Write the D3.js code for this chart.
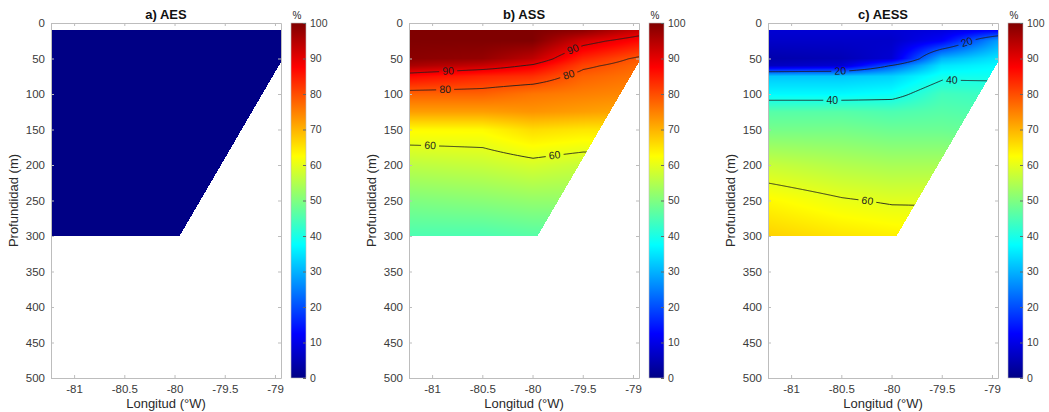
<!DOCTYPE html>
<html><head><meta charset="utf-8">
<script src="https://cdn.jsdelivr.net/npm/d3@7"></script>
<style>
body{margin:0;background:#fff;}
svg{display:block;font-family:"Liberation Sans",Arial,Helvetica,sans-serif;}
</style>
</head><body>
<svg id="chart" width="1049" height="412"></svg>
<script>
// ---------------- DATA ----------------
const titles = ["a) AES", "b) ASS", "c) AESS"];
const lonGrid = [-81.23, -80.5, -80.0, -79.5, -78.94];              // station longitudes (°W)
const depthGrid = [10, 25, 50, 60, 75, 100, 125, 150, 200, 250, 300]; // depths (m)

// rows = depthGrid, columns = lonGrid  (%)
const aesValues = [
  [0,0,0,0,0],[0,0,0,0,0],[0,0,0,0,0],[0,0,0,0,0],[0,0,0,0,0],[0,0,0,0,0],
  [0,0,0,0,0],[0,0,0,0,0],[0,0,0,0,0],[0,0,0,0,0],[0,0,0,0,0]
];
const assValues = [
  [100, 100, 100,  99, 93],
  [100, 100, 100,  92, 87],
  [ 99,  98,  94,  84, 79],
  [ 96,  93,  89,  81, 77.5],
  [ 87,  84,  83,  78, 76],
  [ 78,  78,  76,  75, 74],
  [ 72,  72,  73,  72, 71],
  [ 63,  63,  66,  65, 65],
  [ 56,  57, 58.5, 57, 57],
  [ 50,  51,  52,  52, 51],
  [ 45,  45,  46,  46, 46]
];
const aessValues = [
  [  8,   8,   8,   9, 12],
  [  7,   7,   7,  12, 28],
  [  4,   5,   8,  30, 35],
  [  6,   8,  21,  35, 37],
  [ 32,  32,  33,  39, 39],
  [ 37,  37,  38,  44, 43],
  [ 46,  46,  45,  46, 45],
  [ 49,  49,  48,  48, 47],
  [ 57,  55,  54,  54, 52],
  [ 63, 60.5, 59.5, 59.5, 57],
  [ 67,  65,  64,  63, 61]
];
const panelValues = [aesValues, assValues, aessValues];

// data coverage (section above the shelf)
const maskLon   = [-81.23, -78.94, -78.94, -79.95, -81.23];
const maskDepth = [10, 10, 55, 300, 300];

const contourLevels = [[], [60, 80, 90], [20, 40, 60]];
// contour labels: [level, longitude]
const contourLabels = [
  [],
  [[90, -80.84], [90, -79.6], [80, -80.87], [80, -79.64], [60, -81.02], [60, -79.78]],
  [[20, -80.51], [20, -79.25], [40, -80.59], [40, -79.40], [60, -80.24]]
];

const xTicks = [-81, -80.5, -80, -79.5, -79];
const yTicks = [0, 50, 100, 150, 200, 250, 300, 350, 400, 450, 500];
const cbTicks = [0, 10, 20, 30, 40, 50, 60, 70, 80, 90, 100];
const xLabel = "Longitud (°W)";
const yLabel = "Profundidad (m)";
const cbUnit = "%";

// ---------------- LAYOUT ----------------
const panelLefts = [51, 409, 768];
const plotW = 230, plotTop = 23, plotBottom = 378;
const cbOffset = 240, cbW = 15;
const axisColor = "#bdbdbd", tickText = "#3a3a3a";

const jet = d3.scaleLinear()
  .domain([0, 12.5, 37.5, 62.5, 87.5, 100])
  .range(["#000085", "#0000ff", "#00ffff", "#ffff00", "#ff0000", "#800000"])
  .clamp(true);

function field(vals, lon, depth) {
  const nL = lonGrid.length, nD = depthGrid.length;
  lon = Math.max(lonGrid[0], Math.min(lonGrid[nL - 1], lon));
  depth = Math.max(depthGrid[0], Math.min(depthGrid[nD - 1], depth));
  let i = Math.min(d3.bisectRight(lonGrid, lon) - 1, nL - 2);
  let j = Math.min(d3.bisectRight(depthGrid, depth) - 1, nD - 2);
  i = Math.max(0, i); j = Math.max(0, j);
  const tx = (lon - lonGrid[i]) / (lonGrid[i + 1] - lonGrid[i]);
  const ty = (depth - depthGrid[j]) / (depthGrid[j + 1] - depthGrid[j]);
  return (1 - tx) * (1 - ty) * vals[j][i] + tx * (1 - ty) * vals[j][i + 1] +
         (1 - tx) * ty * vals[j + 1][i] + tx * ty * vals[j + 1][i + 1];
}

const svg = d3.select("#chart");
const defs = svg.append("defs");

// colorbar gradient
const grad = defs.append("linearGradient").attr("id", "jetgrad")
  .attr("x1", 0).attr("y1", 1).attr("x2", 0).attr("y2", 0);
d3.range(0, 101, 2.5).forEach(v => grad.append("stop").attr("offset", v / 100).attr("stop-color", jet(v)));

panelValues.forEach((vals, p) => {
  const left = panelLefts[p];
  const x = d3.scaleLinear().domain([-81.23, -78.94]).range([left, left + plotW]);
  const y = d3.scaleLinear().domain([0, 500]).range([plotTop, plotBottom]);
  const g = svg.append("g");

  const maskPoly = maskLon.map((l, k) => [x(l), y(maskDepth[k])]);

  // ---- field image ----
  const cw = plotW, ch = plotBottom - plotTop;
  const canvas = document.createElement("canvas");
  canvas.width = cw; canvas.height = ch;
  const ctx = canvas.getContext("2d");
  const img = ctx.createImageData(cw, ch);
  for (let py = 0; py < ch; py++) {
    for (let px = 0; px < cw; px++) {
      const sx = left + px + 0.5, sy = plotTop + py + 0.5;
      if (!d3.polygonContains(maskPoly, [sx, sy])) continue;
      const v = field(vals, x.invert(sx), y.invert(sy));
      const c = d3.rgb(jet(v));
      const k = (py * cw + px) * 4;
      img.data[k] = c.r; img.data[k + 1] = c.g; img.data[k + 2] = c.b; img.data[k + 3] = 255;
    }
  }
  ctx.putImageData(img, 0, 0);
  g.append("image").attr("x", left).attr("y", plotTop).attr("width", cw).attr("height", ch)
    .attr("preserveAspectRatio", "none").attr("href", canvas.toDataURL());

  // ---- contours ----
  const levels = contourLevels[p];
  if (levels.length) {
    const lon0 = -81.4, dLon = 0.01, N = 261;
    const dep0 = 0, dDep = 1, M = 321;
    const grid = new Array(N * M);
    for (let j = 0; j < M; j++) for (let i = 0; i < N; i++)
      grid[j * N + i] = field(vals, lon0 + i * dLon, dep0 + j * dDep);
    const contours = d3.contours().size([N, M]).thresholds(levels)(grid);
    const path = d3.geoPath(d3.geoTransform({
      point: function (cx, cy) { this.stream.point(x(lon0 + cx * dLon), y(dep0 + cy * dDep)); }
    }));

    // label positions
    const crossDepth = (level, lon) => {
      for (let d = 10; d < 300; d += 0.25) {
        const a = field(vals, lon, d) - level, b = field(vals, lon, d + 0.25) - level;
        if (a === 0 || a * b < 0) return d + 0.25 * (a / (a - b));
      }
      return null;
    };
    const labels = contourLabels[p].map(([lev, lon]) => {
      const d = crossDepth(lev, lon);
      const d1 = crossDepth(lev, lon - 0.05), d2 = crossDepth(lev, lon + 0.05);
      let ang = 0;
      if (d1 != null && d2 != null) ang = Math.atan2(y(d2) - y(d1), x(lon + 0.05) - x(lon - 0.05)) * 180 / Math.PI;
      return {lev, px: x(lon), py: y(d), ang};
    });

    const clipId = "clip" + p, maskId = "lblmask" + p;
    defs.append("clipPath").attr("id", clipId).append("polygon")
      .attr("points", maskPoly.map(q => q.join(",")).join(" "));
    const m = defs.append("mask").attr("id", maskId).attr("maskUnits", "userSpaceOnUse")
      .attr("x", 0).attr("y", 0).attr("width", 1049).attr("height", 412);
    m.append("rect").attr("x", 0).attr("y", 0).attr("width", 1049).attr("height", 412).attr("fill", "#fff");
    labels.forEach(l => m.append("rect").attr("x", -9).attr("y", -6).attr("width", 18).attr("height", 12)
      .attr("fill", "#000").attr("transform", `translate(${l.px},${l.py}) rotate(${l.ang})`));

    g.append("g").attr("clip-path", `url(#${clipId})`)
      .append("g").attr("mask", `url(#${maskId})`)
      .selectAll("path").data(contours).join("path")
      .attr("d", path).attr("fill", "none").attr("stroke", "#1e1e1e").attr("stroke-width", 0.9);

    g.selectAll("text.clab").data(labels).join("text").attr("class", "clab")
      .attr("transform", l => `translate(${l.px},${l.py}) rotate(${l.ang})`)
      .attr("text-anchor", "middle").attr("dy", "0.35em")
      .attr("font-size", 10.5).attr("fill", "#1e1e1e").text(l => l.lev);
  }

  // ---- axes ----
  const fmt = d => String(d);
  const styleAxis = sel => {
    sel.select(".domain").attr("stroke", axisColor);
    sel.selectAll(".tick line").attr("stroke", axisColor);
    sel.selectAll(".tick text").attr("fill", tickText).attr("font-size", 11.5).attr("font-family", null);
  };
  g.append("g").attr("transform", `translate(0,${plotBottom})`)
    .call(d3.axisBottom(x).tickValues(xTicks).tickFormat(fmt).tickSizeInner(-3).tickSizeOuter(0).tickPadding(7))
    .call(styleAxis);
  g.append("g").attr("transform", `translate(0,${plotTop})`)
    .call(d3.axisTop(x).tickValues(xTicks).tickFormat("").tickSizeInner(-3).tickSizeOuter(0))
    .call(styleAxis);
  g.append("g").attr("transform", `translate(${left},0)`)
    .call(d3.axisLeft(y).tickValues(yTicks).tickFormat(fmt).tickSizeInner(-3).tickSizeOuter(0).tickPadding(6))
    .call(styleAxis);
  g.append("g").attr("transform", `translate(${left + plotW},0)`)
    .call(d3.axisRight(y).tickValues(yTicks).tickFormat("").tickSizeInner(-3).tickSizeOuter(0))
    .call(styleAxis);

  // title & labels
  g.append("text").attr("x", left + plotW / 2).attr("y", 19).attr("text-anchor", "middle")
    .attr("font-size", 13).attr("font-weight", "bold").attr("fill", "#111").text(titles[p]);
  g.append("text").attr("x", left + plotW / 2).attr("y", 408).attr("text-anchor", "middle")
    .attr("font-size", 13).attr("fill", "#2a2a2a").text(xLabel);
  g.append("text").attr("transform", `translate(${left - 33},${(plotTop + plotBottom) / 2}) rotate(-90)`)
    .attr("text-anchor", "middle").attr("font-size", 13).attr("fill", "#2a2a2a").text(yLabel);

  // ---- colorbar ----
  const cbx = left + cbOffset;
  const cy = d3.scaleLinear().domain([0, 100]).range([plotBottom, plotTop]);
  g.append("rect").attr("x", cbx).attr("y", plotTop).attr("width", cbW).attr("height", plotBottom - plotTop)
    .attr("fill", "url(#jetgrad)").attr("stroke", axisColor).attr("stroke-width", 0.6);
  const cbAxis = g.append("g").attr("transform", `translate(${cbx + cbW},0)`)
    .call(d3.axisRight(cy).tickValues(cbTicks).tickFormat(fmt).tickSizeInner(-3).tickSizeOuter(0).tickPadding(4));
  cbAxis.select(".domain").remove();
  cbAxis.selectAll(".tick line").attr("stroke", "#666");
  cbAxis.selectAll(".tick text").attr("fill", tickText).attr("font-size", 10.5).attr("font-family", null);
  g.append("text").attr("x", cbx + 6).attr("y", 19).attr("text-anchor", "middle")
    .attr("font-size", 10).attr("fill", "#2a2a2a").text(cbUnit);
});
</script>
</body></html>
